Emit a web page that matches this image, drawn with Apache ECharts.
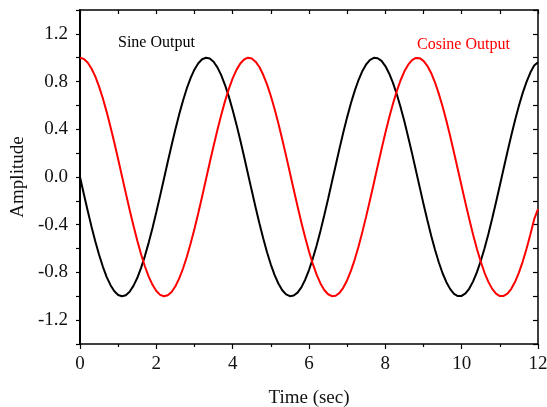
<!DOCTYPE html>
<html>
<head>
<meta charset="utf-8">
<script src="https://cdn.jsdelivr.net/npm/echarts@6/dist/echarts.min.js"></script>
<style>html,body{margin:0;padding:0;background:#fff}#c{width:547px;height:407px}</style>
</head>
<body>
<div id="c"></div>
<script>
// Time samples (sec)
var timeValues = [0,0.1,0.2,0.3,0.4,0.5,0.6,0.7,0.8,0.9,1.0,1.1,1.2,1.3,1.4,1.5,1.6,1.7,1.8,1.9,2.0,2.1,2.2,2.3,2.4,2.5,2.6,2.7,2.8,2.9,3.0,3.1,3.2,3.3,3.4,3.5,3.6,3.7,3.8,3.9,4.0,4.1,4.2,4.3,4.4,4.5,4.6,4.7,4.8,4.9,5.0,5.1,5.2,5.3,5.4,5.5,5.6,5.7,5.8,5.9,6.0,6.1,6.2,6.3,6.4,6.5,6.6,6.7,6.8,6.9,7.0,7.1,7.2,7.3,7.4,7.5,7.6,7.7,7.8,7.9,8.0,8.1,8.2,8.3,8.4,8.5,8.6,8.7,8.8,8.9,9.0,9.1,9.2,9.3,9.4,9.5,9.6,9.7,9.8,9.9,10.0,10.1,10.2,10.3,10.4,10.5,10.6,10.7,10.8,10.9,11.0,11.1,11.2,11.3,11.4,11.5,11.6,11.7,11.8,11.9,12.0];
// Sine Output (black)
var sineOutput = [0,-0.142,-0.280,-0.414,-0.539,-0.652,-0.753,-0.839,-0.907,-0.958,-0.989,-1.000,-0.991,-0.962,-0.913,-0.847,-0.762,-0.663,-0.550,-0.427,-0.294,-0.156,-0.014,0.128,0.267,0.401,0.527,0.641,0.744,0.831,0.902,0.954,0.987,1.000,0.993,0.966,0.919,0.854,0.771,0.674,0.562,0.439,0.308,0.170,0.028,-0.114,-0.253,-0.388,-0.514,-0.631,-0.734,-0.823,-0.895,-0.949,-0.984,-0.999,-0.994,-0.969,-0.925,-0.861,-0.780,-0.684,-0.574,-0.452,-0.321,-0.184,-0.042,0.099,0.240,0.375,0.502,0.620,0.724,0.815,0.889,0.945,0.982,0.999,0.996,0.973,0.930,0.868,0.789,0.694,0.585,0.465,0.334,0.198,0.057,-0.085,-0.226,-0.361,-0.490,-0.608,-0.715,-0.807,-0.882,-0.940,-0.979,-0.998,-0.997,-0.976,-0.935,-0.875,-0.798,-0.704,-0.597,-0.477,-0.348,-0.211,-0.071,0.071,0.212,0.348,0.478,0.597,0.705,0.798,0.876,0.935,0.962];
// Cosine Output (red)
var cosineOutput = [1,0.990,0.960,0.910,0.843,0.758,0.658,0.544,0.420,0.287,0.149,0.007,-0.135,-0.274,-0.407,-0.532,-0.647,-0.748,-0.835,-0.904,-0.956,-0.988,-1.000,-0.992,-0.964,-0.916,-0.850,-0.767,-0.668,-0.556,-0.433,-0.301,-0.163,-0.021,0.121,0.260,0.394,0.520,0.636,0.739,0.827,0.898,0.952,0.985,1.000,0.994,0.967,0.922,0.857,0.776,0.679,0.568,0.446,0.314,0.177,0.035,-0.107,-0.246,-0.381,-0.508,-0.625,-0.729,-0.819,-0.892,-0.947,-0.983,-0.999,-0.995,-0.971,-0.927,-0.865,-0.785,-0.690,-0.580,-0.458,-0.328,-0.190,-0.050,0.093,0.233,0.368,0.496,0.614,0.720,0.811,0.886,0.942,0.980,0.998,0.996,0.974,0.932,0.872,0.794,0.699,0.591,0.471,0.341,0.204,0.063,-0.078,-0.219,-0.355,-0.484,-0.603,-0.710,-0.803,-0.879,-0.938,-0.977,-0.998,-0.997,-0.977,-0.937,-0.879,-0.802,-0.709,-0.602,-0.483,-0.354,-0.27];
// Axis settings
var xMin = 0, xMax = 12, xInterval = 2;
var yMin = -1.4, yMax = 1.4, yStep = 0.2;
var xName = 'Time (sec)', yName = 'Amplitude';
var sineLabel = 'Sine Output', cosineLabel = 'Cosine Output';

var FONT = '"Liberation Serif", "Times New Roman", serif';
var chart = echarts.init(document.getElementById('c'), null, {renderer: 'canvas'});

function yFmt(v) {
  var k = Math.round(v * 10);
  if (k % 4 !== 0) return '';
  if (k === 0) return '0.0';
  return (k / 10).toFixed(1);
}

var option = {
  animation: false,
  backgroundColor: '#fff',
  grid: {left: 80, right: 9, top: 10, bottom: 63, containLabel: false, outerBoundsMode: 'none'},
  xAxis: [{
    type: 'value', min: xMin, max: xMax, interval: xInterval, position: 'bottom',
    name: xName, nameLocation: 'middle', nameGap: 45,
    nameTextStyle: {fontFamily: FONT, fontSize: 19, color: '#111'},
    axisLine: {show: true, onZero: false, lineStyle: {color: '#000', width: 1.5}},
    axisTick: {show: true, inside: false, length: 5, lineStyle: {color: '#000', width: 1.2}},
    minorTick: {show: true, splitNumber: 2, length: 3, lineStyle: {color: '#000', width: 1.2}},
    axisLabel: {fontFamily: FONT, fontSize: 19, color: '#111', margin: 11},
    splitLine: {show: false}
  }, {
    type: 'value', min: xMin, max: xMax, interval: 1, position: 'top',
    axisLine: {show: true, onZero: false, lineStyle: {color: '#000', width: 1.5}},
    axisTick: {show: true, inside: true, length: 4, lineStyle: {color: '#000', width: 1.2}},
    axisLabel: {show: false},
    splitLine: {show: false}
  }],
  yAxis: [{
    type: 'value', min: yMin, max: yMax, interval: yStep, position: 'left',
    name: yName, nameLocation: 'middle', nameGap: 50, nameRotate: 90,
    nameTextStyle: {fontFamily: FONT, fontSize: 19, color: '#111'},
    axisLine: {show: true, onZero: false, lineStyle: {color: '#000', width: 2}},
    axisTick: {show: true, inside: false, length: 4, lineStyle: {color: '#000', width: 1.2}},
    axisLabel: {fontFamily: FONT, fontSize: 19, color: '#111', margin: 12, formatter: yFmt, showMinLabel: true, showMaxLabel: true},
    splitLine: {show: false}
  }, {
    type: 'value', min: yMin, max: yMax, interval: yStep, position: 'right',
    axisLine: {show: true, onZero: false, lineStyle: {color: '#000', width: 1.5}},
    axisTick: {show: true, inside: true, length: 5, lineStyle: {color: '#000', width: 1.2}},
    axisLabel: {show: false},
    splitLine: {show: false}
  }],
  graphic: [
    {type: 'text', left: 118, top: 35, style: {text: sineLabel, fill: '#000', font: '16px ' + FONT}},
    {type: 'text', left: 417, top: 37, style: {text: cosineLabel, fill: '#ff0000', font: '16px ' + FONT}}
  ],
  series: [{
    name: sineLabel, type: 'line', smooth: false, showSymbol: false,
    lineStyle: {color: '#000', width: 2}, xAxisIndex: 0, yAxisIndex: 0,
    data: timeValues.map(function (t, i) { return [t, sineOutput[i]]; })
  }, {
    name: cosineLabel, type: 'line', smooth: false, showSymbol: false,
    lineStyle: {color: '#ff0000', width: 2}, xAxisIndex: 0, yAxisIndex: 0,
    data: timeValues.map(function (t, i) { return [t, cosineOutput[i]]; })
  }]
};
chart.setOption(option);
</script>
</body>
</html>
